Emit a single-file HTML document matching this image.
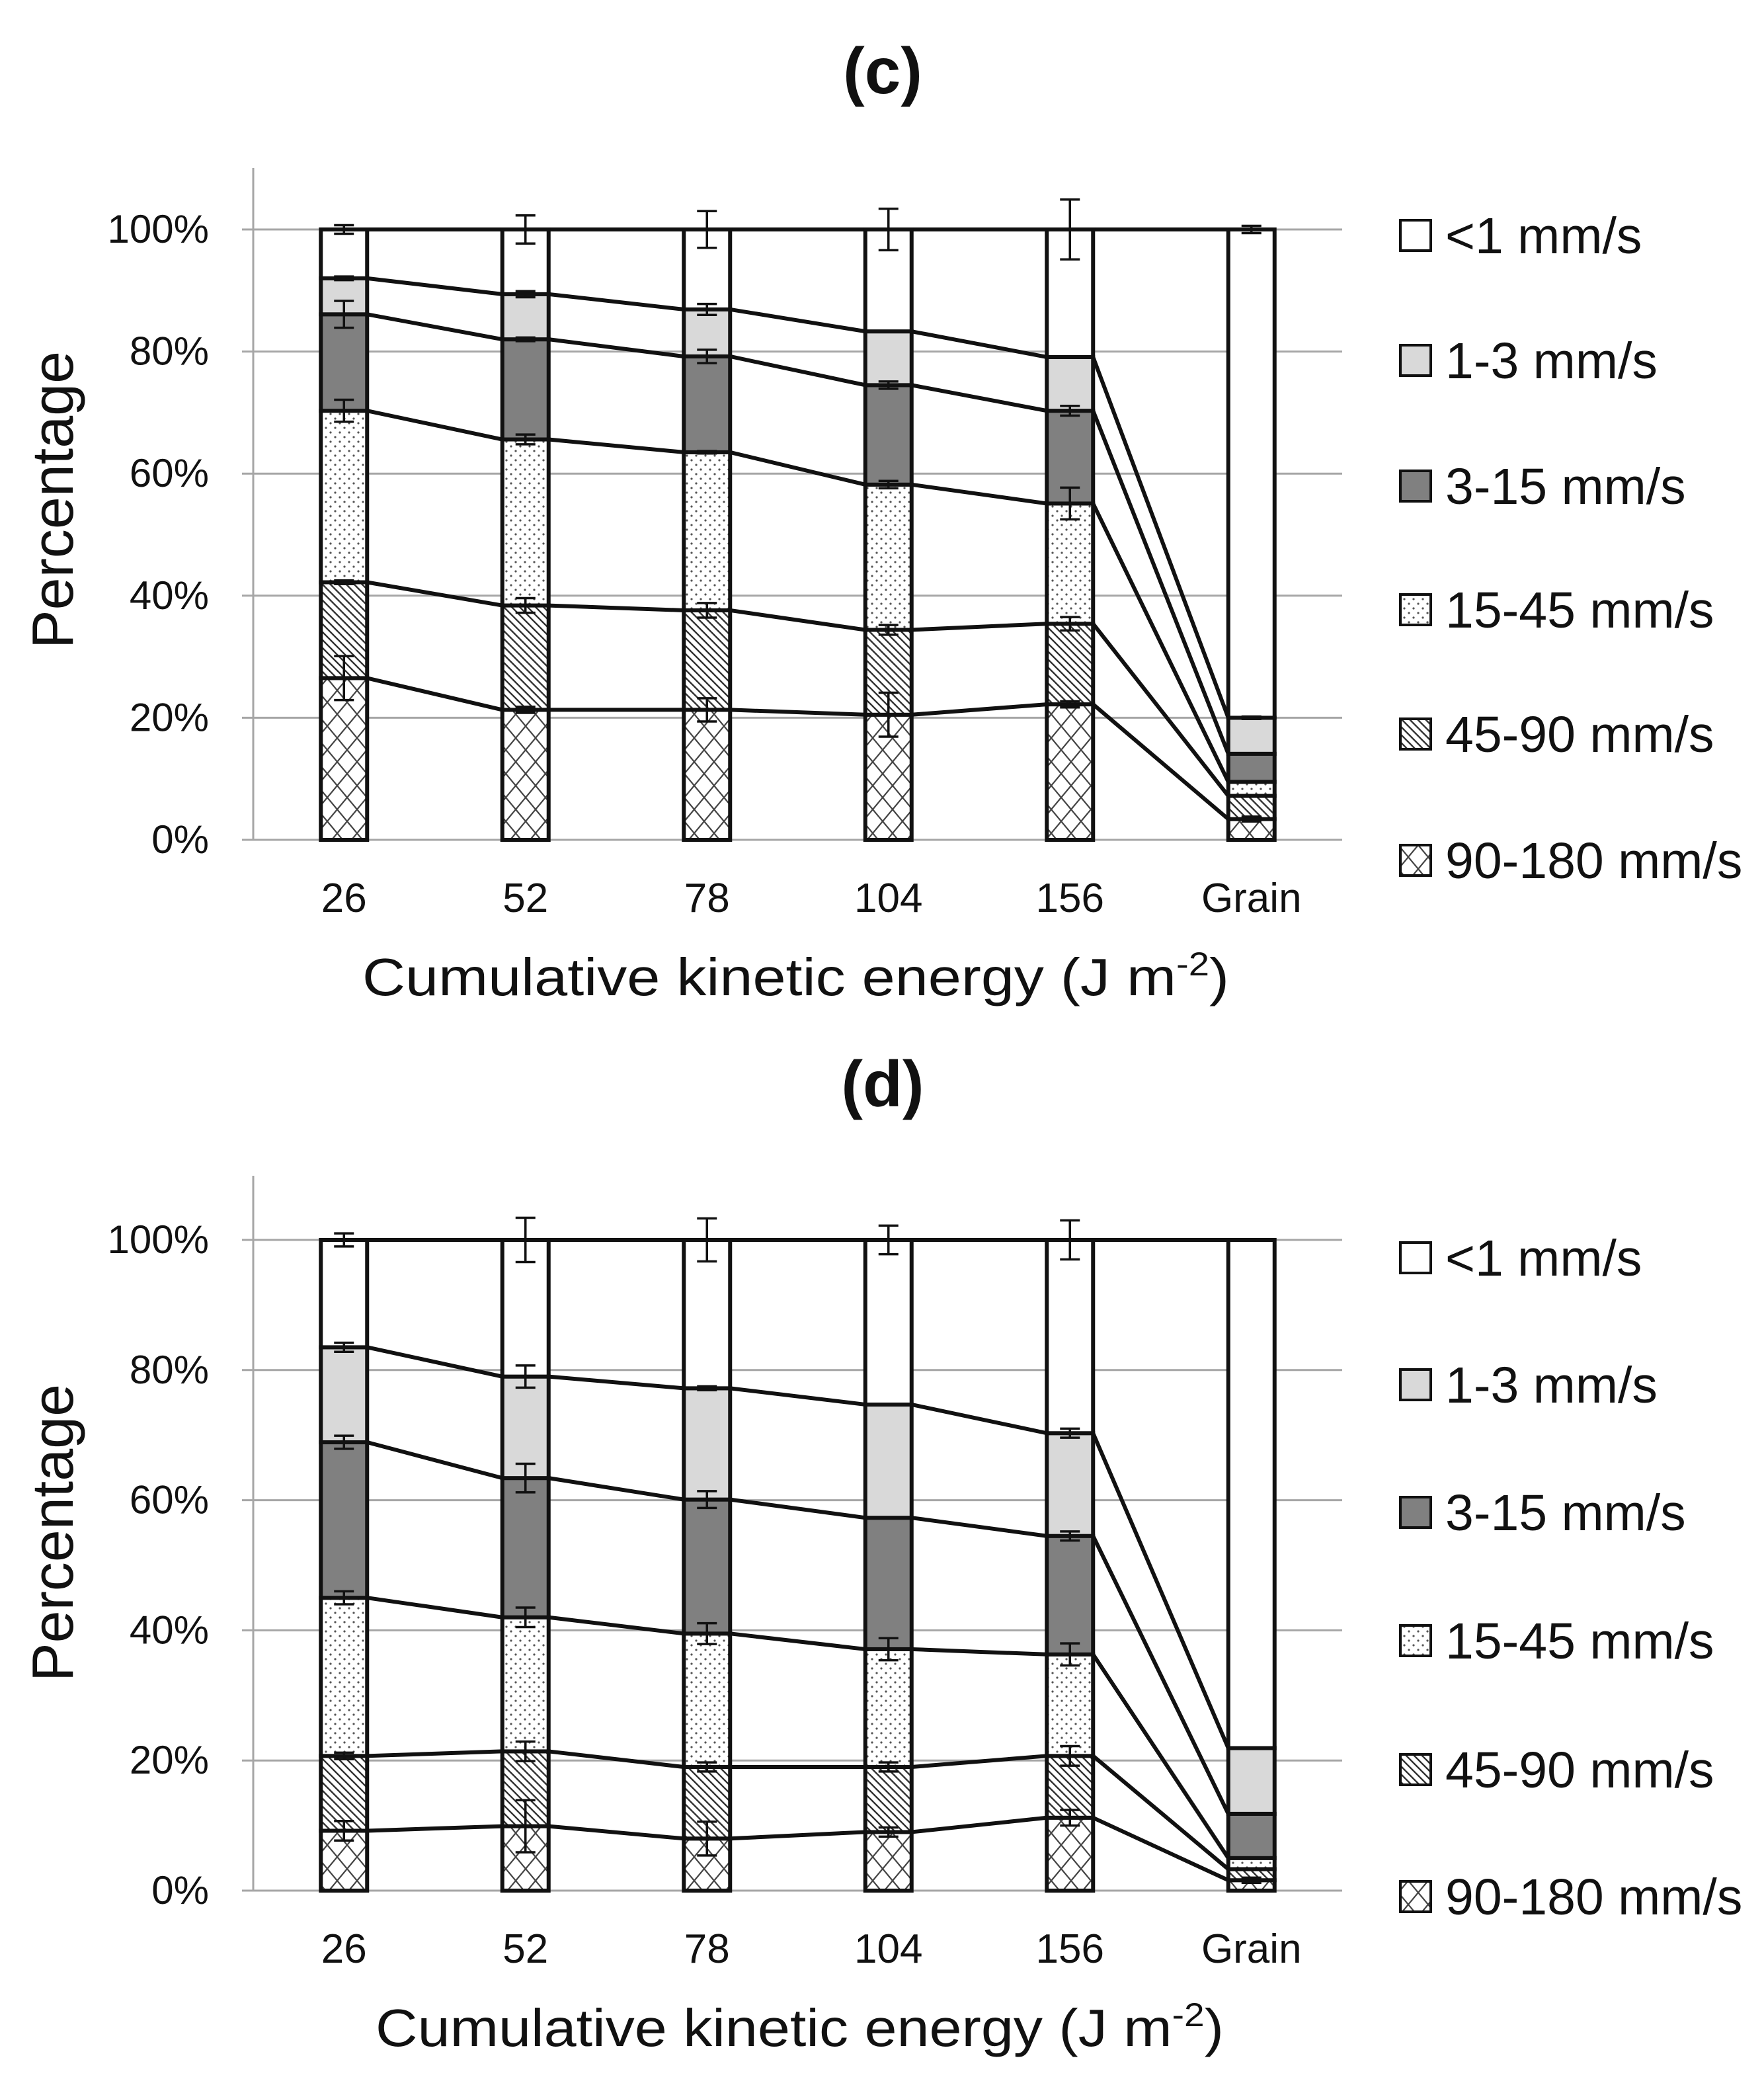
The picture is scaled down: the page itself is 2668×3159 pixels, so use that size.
<!DOCTYPE html>
<html><head><meta charset="utf-8"><style>
html,body{margin:0;padding:0;background:#fff;}
svg{display:block;}
text{font-family:"Liberation Sans",sans-serif;fill:#111;}
</style></head>
<body>
<svg id="fig" width="2668" height="3159" viewBox="0 0 2668 3159" xmlns="http://www.w3.org/2000/svg">
<defs>
<pattern id="pDots" patternUnits="userSpaceOnUse" width="14" height="14"><rect width="14" height="14" fill="#fff"/><circle cx="3" cy="3" r="1.6" fill="#555"/><circle cx="10" cy="10" r="1.6" fill="#555"/></pattern>
<pattern id="pDiag" patternUnits="userSpaceOnUse" width="12" height="12"><rect width="12" height="12" fill="#fff"/><path d="M-3,-3 L15,15 M-3,9 L3,15 M9,-3 L15,3" stroke="#333" stroke-width="2.4"/></pattern>
<pattern id="pCross" patternUnits="userSpaceOnUse" width="30" height="36"><rect width="30" height="36" fill="#fff"/><path d="M0,0 L30,36 M30,0 L0,36" stroke="#444" stroke-width="2.2"/></pattern>
</defs>
</svg>
<script>
const categories = ["26","52","78","104","156","Grain"];
const seriesNames = ["90-180 mm/s","45-90 mm/s","15-45 mm/s","3-15 mm/s","1-3 mm/s","<1 mm/s"];
const yTicks = ["0%","20%","40%","60%","80%","100%"];
// chart (c) segment percentages, bottom to top
const c90_180 = [26.5,21.3,21.3,20.5,22.2,3.4];
const c45_90 = [15.7,17.1,16.3,13.9,13.2,3.8];
const c15_45 = [28.1,27.2,25.9,23.8,19.7,2.3];
const c3_15 = [15.8,16.4,15.7,16.3,15.2,4.6];
const c1_3 = [5.9,7.4,7.7,8.8,8.8,5.9];
const cLt1 = [8.0,10.6,13.1,16.7,20.9,80.0];
// chart (c) error half-ranges
const cErr90_180 = [3.6,0.5,1.9,3.6,0.5,0.4];
const cErr45_90 = [0.3,1.2,1.2,0.8,1.1,0];
const cErr15_45 = [1.8,0.8,0.2,0.6,2.6,0];
const cErr3_15 = [2.2,0.3,1.1,0.6,0.8,0];
const cErr1_3 = [0.3,0.5,0.9,0,0,0.2];
const cErrLt1 = [0.7,2.3,3.0,3.4,4.9,0.6];
// chart (d)
const d90_180 = [9.2,9.9,8.0,9.0,11.2,1.6];
const d45_90 = [11.5,11.5,11.0,10.0,9.5,1.7];
const d15_45 = [24.3,20.6,20.5,18.1,15.6,1.7];
const d3_15 = [23.9,21.4,20.6,20.2,18.2,6.8];
const d1_3 = [14.6,15.6,17.1,17.4,15.8,10.1];
const dLt1 = [16.5,21.0,22.8,25.3,29.7,78.1];
const dErr90_180 = [1.5,4.0,2.6,0.7,1.2,0.4];
const dErr45_90 = [0.5,1.5,0.7,0.7,1.5,0];
const dErr15_45 = [1.0,1.5,1.6,1.7,1.7,0];
const dErr3_15 = [1.0,2.2,1.3,0,0.7,0];
const dErr1_3 = [0.7,1.7,0.3,0,0.7,0];
const dErrLt1 = [1.0,3.4,3.3,2.2,3.0,0];

const fills = ["url(#pCross)","url(#pDiag)","url(#pDots)","#808080","#d9d9d9","#fff"];
const svg = document.getElementById('fig');
const NS = "http://www.w3.org/2000/svg";
function mk(tag, attrs, parent){
  const e = document.createElementNS(NS, tag);
  for (const k in attrs) e.setAttribute(k, attrs[k]);
  (parent||svg).appendChild(e);
  return e;
}

function drawChart(cfg){
  const g = mk('g', {});
  
  
  const x0 = 383, x1 = 2030, yTop = cfg.yTop, yBot = cfg.yBot;
  const band = (x1 - x0) / categories.length;
  const bw = 70;
  const xc = i => x0 + band * (i + 0.5);
  const ys = v => yBot - (yBot - yTop) * v / 100;

  const title = mk('text', {x:1335, y:cfg.titleY, 'font-size':98, 'font-weight':'bold', 'text-anchor':'middle'}, g);
  title.textContent = cfg.title;
  
  

  yTicks.forEach((t, k) => {
    const y = ys(k * 20);
    const gl = mk('line', {x1:366, x2:x1, y1:y, y2:y, stroke:'#a6a6a6', 'stroke-width':3}, g);
    
    
    const tl = mk('text', {x:316, y:y + 20, 'font-size':60, 'text-anchor':'end'}, g);
    tl.textContent = t;
    
    
  });
  const ax = mk('line', {x1:x0, x2:x0, y1:cfg.axisTop, y2:yBot, stroke:'#a6a6a6', 'stroke-width':3}, g);
  
  

  const cum = categories.map((_, i) => {
    let s = 0; return cfg.series.map(ser => (s += ser[i]));
  });

  for (let i = 0; i < categories.length - 1; i++) {
    cum[i].forEach((v, j) => {
      const ln = mk('line', {x1:xc(i) + bw/2, y1:ys(v), x2:xc(i+1) - bw/2, y2:ys(cum[i+1][j]), stroke:'#111', 'stroke-width':6}, g);
      
      
    });
  }
  categories.forEach((c, i) => {
    let base = 0;
    cfg.series.forEach((ser, j) => {
      const top = base + ser[i];
      const r = mk('rect', {x:xc(i) - bw/2, y:ys(top), width:bw, height:ys(base) - ys(top), fill:fills[j], stroke:'#111', 'stroke-width':6}, g);
      
      
      base = top;
    });
    cfg.errs.forEach((er, j) => {
      const e = er[i]; if (!e) return;
      const v = cum[i][j];
      const eg = mk('path', {d:`M${xc(i)},${ys(v+e)}V${ys(v-e)}M${xc(i)-15},${ys(v+e)}h30M${xc(i)-15},${ys(v-e)}h30`, stroke:'#111', 'stroke-width':3.5, fill:'none'}, g);
      
      
    });
    const xl = mk('text', {x:xc(i), y:cfg.xTickY, 'font-size':62, 'text-anchor':'middle'}, g);
    xl.textContent = c;
    
    
  });

  const yt = mk('text', {x:0, y:0, 'font-size':88, 'text-anchor':'middle', transform:`translate(110 ${cfg.yTitleY}) rotate(-90)`}, g);
  yt.textContent = 'Percentage';
  
  
  const xt = mk('text', {x:cfg.xTitleX, y:cfg.xTitleY, 'font-size':80, textLength:cfg.xTitleW, lengthAdjust:'spacingAndGlyphs'}, g);
  xt.innerHTML = 'Cumulative kinetic energy (J m<tspan dy="-30" font-size="50">-2</tspan><tspan dy="30">)</tspan>';
  
  

  cfg.legendY.forEach((by, k) => {
    const j = 5 - k;
    const lg = mk('g', {}, g);
    
    
    mk('rect', {x:2118, y:by - 50, width:46, height:46, fill:fills[j], stroke:'#111', 'stroke-width':4}, lg);
    const lt = mk('text', {x:2186, y:by, 'font-size':77}, lg);
    lt.textContent = seriesNames[j];
  });
}

drawChart({name:'chart-c', title:'(c)', titleY:141, yTop:347, yBot:1270, axisTop:254,
  series:[c90_180,c45_90,c15_45,c3_15,c1_3,cLt1],
  errs:[cErr90_180,cErr45_90,cErr15_45,cErr3_15,cErr1_3,cErrLt1],
  xTickY:1379, xTitleX:548, xTitleY:1505, xTitleW:1311, yTitleY:756,
  legendY:[383,572,762,949,1137,1328]});
drawChart({name:'chart-d', title:'(d)', titleY:1673, yTop:1875, yBot:2859, axisTop:1778,
  series:[d90_180,d45_90,d15_45,d3_15,d1_3,dLt1],
  errs:[dErr90_180,dErr45_90,dErr15_45,dErr3_15,dErr1_3,dErrLt1],
  xTickY:2968, xTitleX:568, xTitleY:3094, xTitleW:1283, yTitleY:2318,
  legendY:[1929,2121,2314,2508,2703,2895]});
</script>
</body></html>
